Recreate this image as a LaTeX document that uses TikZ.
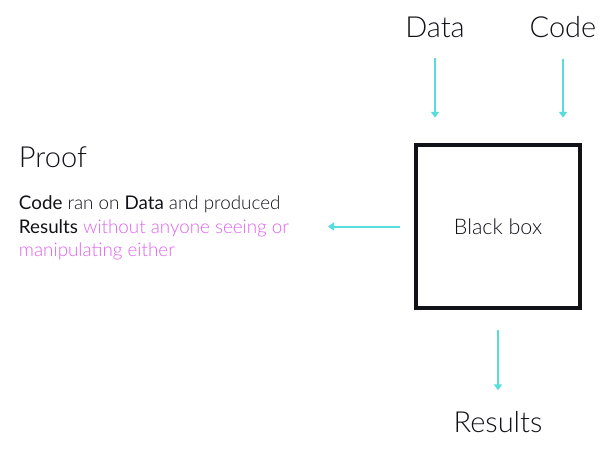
\documentclass[tikz,border=0pt]{standalone}
\usepackage{fontspec}
\setmainfont{Lato}[UprightFont={* Light}, BoldFont={*}]
\usetikzlibrary{arrows.meta, positioning}
\definecolor{mycyan}{RGB}{88, 221, 221}
\definecolor{mymagenta}{RGB}{222, 98, 238}
\definecolor{myink}{RGB}{17, 17, 24}

\begin{document}
\begin{tikzpicture}[x=1pt, y=-1pt, line width=2pt, >={Triangle[length=6pt,width=8pt]}]
	\tikzset{
		bigtext/.style={inner sep=0pt, text=myink, font=\fontsize{29}{34}\selectfont},
		smalltext/.style={inner sep=0pt, text=myink, font=\fontsize{18.8}{23.5}\selectfont},
		flow/.style={->, mycyan, line width=2pt}
	}
	\useasboundingbox (0,0) rectangle (614,458);
	
	\node[draw=myink, line width=4.5pt, minimum width=164pt, minimum height=163pt, smalltext, font=\fontsize{21.5}{26}\selectfont] (bbox) at (498,226.5) {Black box};
	
	\node[bigtext] (data) at (435,27) {Data};
	\node[bigtext] (code) at (563,27) {Code};
	\node[bigtext] (results) at (498,422) {Results};
	
	\node[bigtext, anchor=west] (proof) at (18,157) {Proof};
	\node[smalltext, anchor=north west, align=left] (desc) at (18,195)
		{\textbf{Code} ran on \textbf{Data} and produced\\
		 \textbf{Results} \textcolor{mymagenta}{without anyone seeing or}\\
		 \textcolor{mymagenta}{manipulating either}};
	\coordinate (proofin) at (328,226.5);
	
	\draw[flow, shorten <=20pt, shorten >=25pt] (data) -- (data |- bbox.north);
	\draw[flow, shorten <=20pt, shorten >=25pt] (code) -- (code |- bbox.north);
	\draw[flow, shorten <=14pt] (bbox.west) -- (proofin);
	\draw[flow, shorten <=20pt, shorten >=20pt] (bbox.south) -- (results);
	
\end{tikzpicture}
\end{document}
